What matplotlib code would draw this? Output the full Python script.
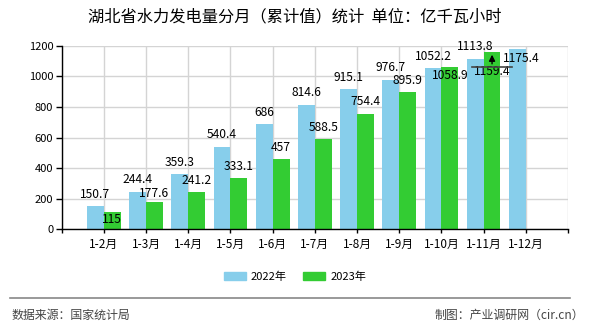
import matplotlib
matplotlib.use("Agg")
import matplotlib.pyplot as plt
from matplotlib.lines import Line2D
from matplotlib.patches import Patch
from matplotlib.transforms import offset_copy

plt.rcParams["font.family"] = ["Noto Sans CJK SC", "DejaVu Sans"]

months = ["1-2月", "1-3月", "1-4月", "1-5月", "1-6月", "1-7月",
          "1-8月", "1-9月", "1-10月", "1-11月", "1-12月"]
v2022 = [150.7, 244.4, 359.3, 540.4, 686, 814.6, 915.1, 976.7, 1052.2, 1113.8, 1175.4]
v2023 = [115, 177.6, 241.2, 333.1, 457, 588.5, 754.4, 895.9, 1058.9, 1159.4]
labels2022 = ["150.7", "244.4", "359.3", "540.4", "686", "814.6", "915.1",
              "976.7", "1052.2", "1113.8", "1175.4"]
labels2023 = ["115", "177.6", "241.2", "333.1", "457", "588.5", "754.4",
              "895.9", "1058.9", "1159.4"]

c2022 = "#87CEEB"
c2023 = "#33CC33"
PX = 0.72  # points per pixel at dpi 100

fig = plt.figure(figsize=(5.9, 3.3), dpi=100)
ax = fig.add_axes([61.7 / 590, 1 - 229.3 / 330, (568 - 61.7) / 590, (229.3 - 45.7) / 330])

w = 0.4
x1 = [i + 1 - w / 2 for i in range(len(v2022))]
x2 = [i + 1 + w / 2 for i in range(len(v2023))]
ax.bar(x1, v2022, width=w, color=c2022, zorder=2)
ax.bar(x2, v2023, width=w, color=c2023, zorder=2)

# label offsets in pixels (above bar top), a few pulled off to avoid overlap
off2022 = {10: -9}
off2023 = {0: -8, 1: 9, 8: -8.4, 9: -20}
for i, (x, v) in enumerate(zip(x1, v2022)):
    dx = 4 if i == 10 else 0
    ax.annotate(labels2022[i], xy=(x, v), xytext=(dx * PX, off2022.get(i, 12) * PX),
                textcoords="offset points", ha="center", va="center", fontsize=8.7, zorder=5)
for i, (x, v) in enumerate(zip(x2, v2023)):
    ax.annotate(labels2023[i], xy=(x, v), xytext=(0, off2023.get(i, 12) * PX),
                textcoords="offset points", ha="center", va="center", fontsize=8.7, zorder=5)

# leader for the 1-11 label of 2023
xl, vl = x2[9], v2023[9]
tr = offset_copy(ax.transData, fig=fig, x=0, y=-14.7 * PX, units="points")
ax.plot([xl - 0.47, xl + 0.47], [vl, vl], color="#444444", lw=1.2, transform=tr, zorder=6)
ax.annotate("", xy=(xl, vl), xytext=(0, -14.7 * PX), textcoords="offset points",
            arrowprops=dict(arrowstyle="-|>", color="black", lw=1, mutation_scale=9), zorder=6)

ax.set_xlim(0, 12)
ax.set_ylim(0, 1200)
ax.set_xticks(range(13))
ax.set_xticklabels([""] + months + [""], fontsize=8.5)
ax.set_yticks(range(0, 1201, 200))
ax.tick_params(axis="y", labelsize=8, length=4, width=1, pad=2)
ax.tick_params(axis="x", length=3, width=1, pad=3)
ax.grid(True, color="#d4d4d4", lw=1, zorder=0)
ax.set_axisbelow(True)
for s in ["top", "right"]:
    ax.spines[s].set_visible(False)
for s in ["left", "bottom"]:
    ax.spines[s].set_color("black")
    ax.spines[s].set_linewidth(1)

fig.text(0.5, 1 - 17 / 330, "湖北省水力发电量分月（累计值）统计  单位：亿千瓦小时",
         ha="center", va="center", fontsize=11.7)

handles = [Patch(color=c2022, label="2022年"), Patch(color=c2023, label="2023年")]
fig.legend(handles=handles, loc="center", bbox_to_anchor=(0.5, 1 - 276.7 / 330), ncol=2,
           frameon=False, fontsize=8, handlelength=2.0, handleheight=0.8,
           handletextpad=0.45, columnspacing=1.45)

fig.add_artist(Line2D([10 / 590, 570 / 590], [1 - 297.5 / 330] * 2, color="#888888", lw=1.2))
fig.text(12 / 590, 1 - 315 / 330, "数据来源：国家统计局", ha="left", va="center",
         fontsize=8.6, color="#444444")
fig.text(584 / 590, 1 - 315 / 330, "制图：产业调研网（cir.cn）", ha="right", va="center",
         fontsize=8.6, color="#444444")

fig.savefig("out.png", dpi=100)
plt.close("all")
